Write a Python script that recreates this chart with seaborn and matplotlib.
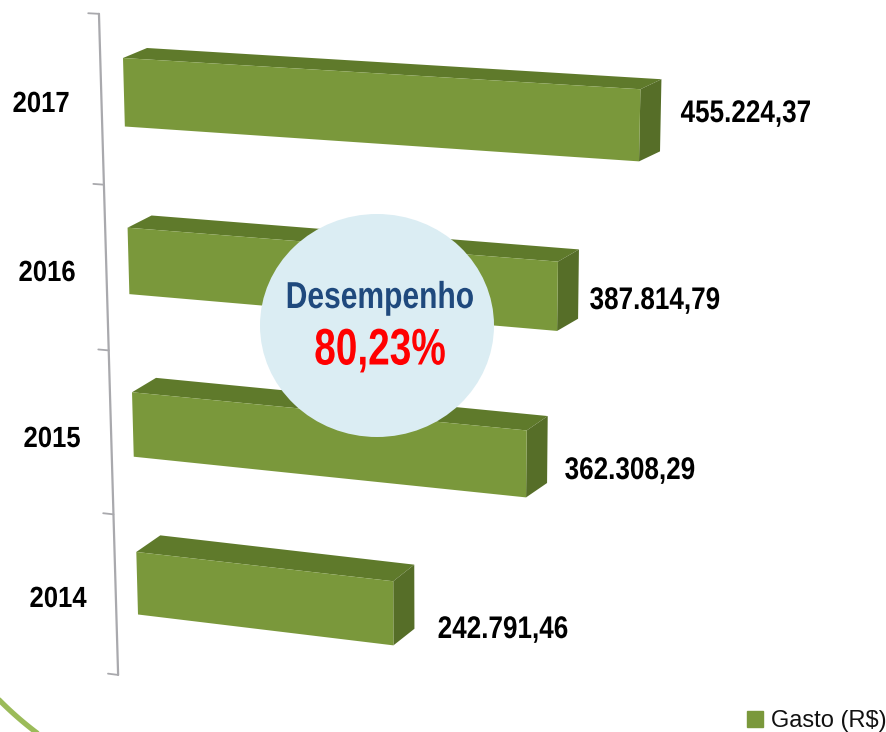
import numpy as np
import pandas as pd
import seaborn as sns
import matplotlib
matplotlib.use("Agg")
import matplotlib.pyplot as plt
from matplotlib.transforms import Transform, Affine2D
from matplotlib.patches import Polygon, Ellipse
from matplotlib.lines import Line2D
from matplotlib.patheffects import AbstractPathEffect

years = ["2017", "2016", "2015", "2014"]
gasto = [455224.37, 387814.79, 362308.29, 242791.46]
value_labels = ["455.224,37", "387.814,79", "362.308,29", "242.791,46"]
legend_label = "Gasto (R$)"
badge_title = "Desempenho"
badge_value = "80,23%"

W, H = 887, 732
FRONT = "#7A983B"
TOP = "#5F7A2B"
SIDE = "#566E28"
AXIS = "#A9A9AD"
FONT = "Liberation Sans"

sns.set_theme(style="white")
fig = plt.figure(figsize=(W / 100, H / 100), dpi=100, facecolor="white")
ax = fig.add_axes([0, 0, 1, 1])

df = pd.DataFrame({"ano": years, "gasto": gasto})
sns.barplot(data=df, x="gasto", y="ano", order=years, orient="h", width=0.4,
            color=FRONT, saturation=1, ax=ax, zorder=3)
ax.axis("off")

PIX = Affine2D().scale(1 / W, -1 / H).translate(0, 1) + fig.transFigure

# perspective frame of the plot: data corners -> image position
src = [(0, -0.2), (500000, -0.2), (0, 3.2), (500000, 3.2)]
dst = [(123, 58), (694.5, 92.5), (138, 614.5), (680, 680)]
A, b = [], []
for (u, v), (x, y) in zip(src, dst):
    u = u / 1e5
    A.append([u, v, 1, 0, 0, 0, -u * x, -v * x]); b.append(x)
    A.append([0, 0, 0, u, v, 1, -u * y, -v * y]); b.append(y)
h = np.linalg.solve(np.array(A, float), np.array(b, float))
HM = np.array([[h[0], h[1], h[2]], [h[3], h[4], h[5]], [h[6], h[7], 1.0]])


class Perspective(Transform):
    input_dims = output_dims = 2
    is_separable = False
    has_inverse = False

    def transform_non_affine(self, values):
        v = np.asarray(values, float)
        p = np.c_[v[:, 0] / 1e5, v[:, 1], np.ones(len(v))] @ HM.T
        return p[:, :2] / p[:, 2:3]


class Condense(AbstractPathEffect):
    """Narrow a real text artist horizontally around its centre."""

    def __init__(self, sx, cx):
        super().__init__()
        self.sx, self.cx = sx, cx

    def draw_path(self, renderer, gc, tpath, affine, rgbFace=None):
        squeeze = Affine2D().translate(-self.cx, 0).scale(self.sx, 1).translate(self.cx, 0)
        renderer.draw_path(gc, tpath, affine + squeeze, rgbFace)


def label(x, y, s, size, sx, color="black", z=6):
    t = ax.text(x, y, s, transform=PIX, ha="center", va="center", fontsize=size, fontweight="bold",
                family=FONT, color=color, clip_on=False, zorder=z)
    t.set_path_effects([Condense(sx, x)])
    return t


P = Perspective()
T = P + PIX

for i, bar in enumerate(ax.patches):
    bar.set_transform(T)
    bar.set_clip_on(False)
    bar.set_edgecolor("none")
    x0, x1 = bar.get_x(), bar.get_x() + bar.get_width()
    y0, y1 = bar.get_y(), bar.get_y() + bar.get_height()
    tl, tr, br = P.transform(np.array([[x0, y0], [x1, y0], [x1, y1]]))
    dy = -(10 + 2.2 * i)
    depth_r, depth_l = np.array([21, dy]), np.array([24, dy])
    ax.add_patch(Polygon([tl, tr, tr + depth_r, tl + depth_l], closed=True, fc=TOP, ec="none",
                         transform=PIX, clip_on=False, zorder=2))
    ax.add_patch(Polygon([tr, tr + depth_r, br + depth_r, br], closed=True, fc=SIDE, ec="none",
                         transform=PIX, clip_on=False, zorder=2))

# skewed category axis
AX_V = -21000
TICK_LEN = 10000
AXIS_TICKS = [-0.5, 0.5, 1.5, 2.52, 3.55]
TA = P + Affine2D().translate(0, 9) + PIX
ax.plot([AX_V, AX_V], [AXIS_TICKS[0], AXIS_TICKS[-1]], color=AXIS, lw=1.6, transform=TA,
        clip_on=False, zorder=1)
for c in AXIS_TICKS:
    ax.plot([AX_V, AX_V - TICK_LEN], [c, c], color=AXIS, lw=1.3, transform=TA, clip_on=False, zorder=1)

# year labels
for yr, (x, y) in zip(years, [(41, 104), (47, 273), (52, 439), (58, 599)]):
    label(x, y, yr, 21, 0.88)

# value labels
for lab, (x, y) in zip(value_labels, [(746, 114), (655, 301), (630, 471), (503, 630)]):
    label(x, y, lab, 22.5, 0.835)

# badge
ax.add_patch(Ellipse((377, 325.5), 234, 223, fc="#DBEDF3", ec="none", transform=PIX,
                     clip_on=False, zorder=5))
label(380, 298, badge_title, 27, 0.8, color="#1F497D")
label(380, 351, badge_value, 37, 0.755, color="#FF0000")

# decorative corner arc
th = np.radians(np.linspace(125, 137, 40))
ax.plot(249 + 352 * np.cos(th), 452 + 352 * np.sin(th), color="#9BBB59", lw=3.8,
        transform=PIX, clip_on=False, zorder=1)

# legend
handle = Line2D([], [], linestyle="none", marker="s", markersize=11.5, color=FRONT, label=legend_label)
leg = fig.legend(handles=[handle], loc="lower right", bbox_to_anchor=(1.0, 0.0), frameon=False,
                 prop={"family": FONT, "size": 17}, labelcolor="#111111", borderpad=0,
                 borderaxespad=0.0, handlelength=1.0, handletextpad=0.2)

fig.savefig("out.png", dpi=100, facecolor="white")
